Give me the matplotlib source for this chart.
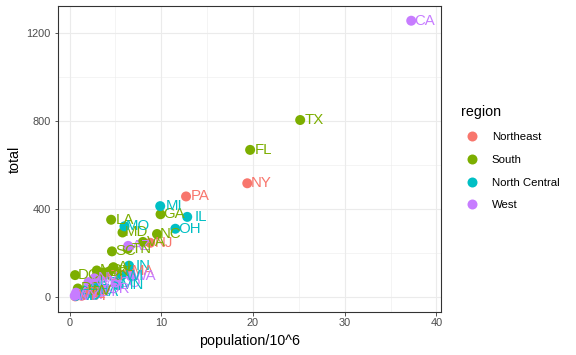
import matplotlib
matplotlib.use("Agg")
import matplotlib.pyplot as plt
from matplotlib.lines import Line2D

plt.rcParams['font.family'] = ['Liberation Sans', 'DejaVu Sans']

abb = ["AL","AK","AZ","AR","CA","CO","CT","DE","DC","FL","GA","HI","ID","IL","IN","IA","KS","KY","LA","ME",
       "MD","MA","MI","MN","MS","MO","MT","NE","NV","NH","NJ","NM","NY","NC","ND","OH","OK","OR","PA","RI",
       "SC","SD","TN","TX","UT","VT","VA","WA","WV","WI","WY"]
region = ["South","West","West","South","West","West","Northeast","South","South","South","South","West","West",
          "North Central","North Central","North Central","North Central","South","South","Northeast",
          "South","Northeast","North Central","North Central","South","North Central","West","North Central","West","Northeast",
          "Northeast","West","Northeast","South","North Central","North Central","South","West","Northeast","Northeast",
          "South","North Central","South","South","West","Northeast","South","West","South","North Central","West"]
population = [4779736,710231,6392017,2915918,37253956,5029196,3574097,897934,601723,19687653,9920000,1360301,1567582,
              12830632,6483802,3046355,2853118,4339367,4533372,1328361,5773552,6547629,9883640,5303925,2967297,5988927,
              989415,1826341,2700551,1316470,8791894,2059179,19378102,9535483,672591,11536504,3751351,3831074,12702379,
              1052567,4625364,814180,6346105,25145561,2763885,625741,8001024,6724540,1852994,5686986,563626]
total = [135,19,232,93,1257,65,97,38,99,669,376,7,12,364,142,21,63,116,351,11,293,118,413,53,120,321,12,32,84,5,
         246,67,517,286,4,310,111,36,457,16,207,8,219,805,22,2,250,93,27,97,5]

regions = ["Northeast","South","North Central","West"]
colors = {"Northeast":"#F8766D","South":"#7CAE00","North Central":"#00BFC4","West":"#C77CFF"}

fig = plt.figure(figsize=(8, 355/72), dpi=72)
ax = fig.add_axes([58/576, 1-312/355, (441-58)/576, (312-6)/355])
ax.set_facecolor("white")

xs = [p/1e6 for p in population]
for r in regions:
    idx = [i for i in range(len(abb)) if region[i] == r]
    ax.scatter([xs[i] for i in idx], [total[i] for i in idx], s=100, color=colors[r], edgecolors="none", zorder=3)
for i in range(len(abb)):
    ax.text(xs[i] + 1.5, total[i], abb[i], color=colors[region[i]], fontsize=15,
            ha="center", va="center", zorder=4)

ax.set_xlim(-1.26, 40.5)
ax.set_ylim(-69, 1324)
ax.set_xticks([0,10,20,30,40])
ax.set_yticks([0,400,800,1200])
ax.set_xticks([5,15,25,35], minor=True)
ax.set_yticks([200,600,1000], minor=True)
ax.grid(True, which="major", color="#EBEBEB", linewidth=1.1, zorder=0)
ax.grid(True, which="minor", color="#EBEBEB", linewidth=0.55, zorder=0)
ax.set_axisbelow(True)
for s in ax.spines.values():
    s.set_color("#333333")
    s.set_linewidth(1.1)
ax.tick_params(which="major", length=3.5, color="#333333", labelsize=11, labelcolor="#4D4D4D")
ax.tick_params(axis="x", which="major", pad=2.5)
ax.tick_params(axis="y", which="major", pad=3.5)
ax.tick_params(which="minor", length=0)
ax.set_xlabel("population/10^6", fontsize=14.2, labelpad=6)
ax.set_ylabel("total", fontsize=14.2, labelpad=5)

handles = [Line2D([0],[0], marker="o", linestyle="", markersize=10, markerfacecolor=colors[r],
                  markeredgecolor="none", label=r) for r in regions]
leg = fig.legend(handles=handles, title="region", loc="upper left", bbox_to_anchor=(461/576, 1-105/355),
                 frameon=False, fontsize=11.4, title_fontsize=14.2, labelspacing=1.12, handletextpad=0.8,
                 handlelength=1.9, borderaxespad=0, borderpad=0)
leg._legend_box.align = "left"
leg._legend_box.sep = 13

fig.savefig("out.png", dpi=72)
